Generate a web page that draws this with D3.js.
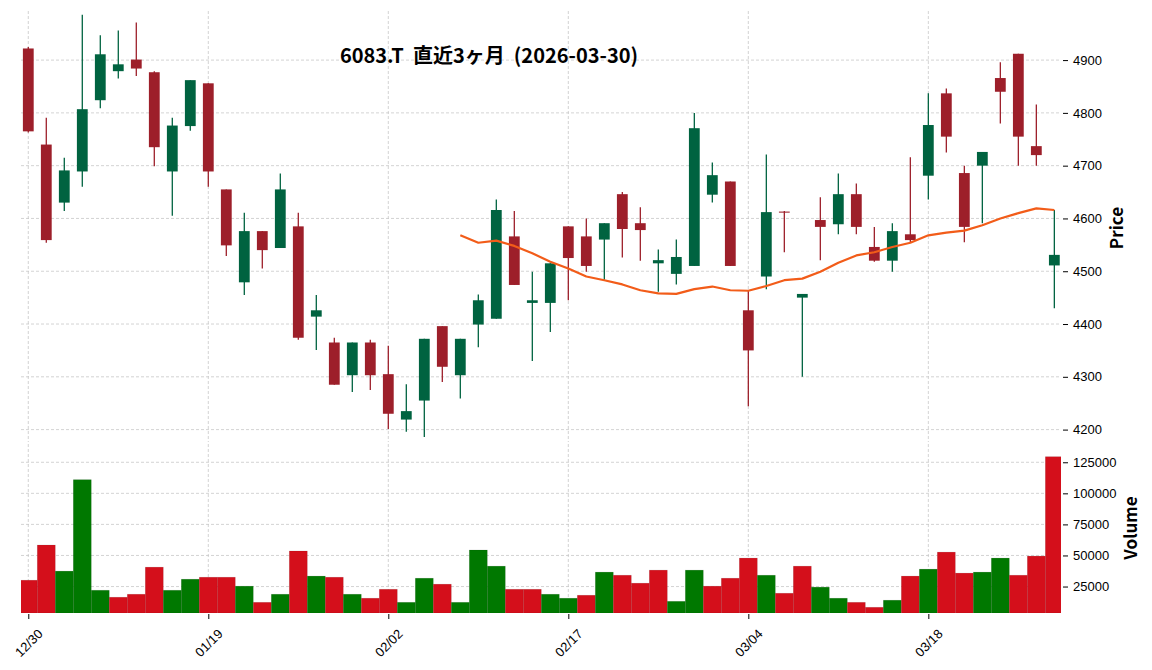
<!DOCTYPE html>
<html>
<head>
<meta charset="utf-8">
<script src="https://cdn.jsdelivr.net/npm/d3@7"></script>
<style>
    body { margin: 0; background: #fff; }
    svg { display: block; font-family: "Noto Sans CJK JP", "Noto Sans", sans-serif; }
    .grid line { stroke: #c8c8c8; stroke-width: 0.8; stroke-dasharray: 3 2; }
    .axis text { font-size: 13px; fill: #000; }
    .axis line { stroke: #000; }
</style>
</head>
<body>
<svg id="chart" width="1152" height="670"></svg>
<script>

// daily candles, 6083.T, last 3 months
const dates = ["12/30", "01/05", "01/06", "01/07", "01/08", "01/09", "01/13", "01/14", "01/15", "01/16",
    "01/19", "01/20", "01/21", "01/22", "01/23", "01/26", "01/27", "01/28", "01/29", "01/30",
    "02/02", "02/03", "02/04", "02/05", "02/06", "02/09", "02/10", "02/12", "02/13", "02/16",
    "02/17", "02/18", "02/19", "02/20", "02/24", "02/25", "02/26", "02/27", "03/02", "03/03",
    "03/04", "03/05", "03/06", "03/09", "03/10", "03/11", "03/12", "03/13", "03/16", "03/17",
    "03/18", "03/19", "03/23", "03/24", "03/25", "03/26", "03/27", "03/30"];

const opens = [4922, 4740, 4630, 4689, 4824, 4879, 4901, 4877, 4689, 4775,
    4856, 4655, 4479, 4576, 4544, 4585, 4414, 4365, 4303, 4365,
    4305, 4219, 4255, 4396, 4303, 4399, 4410, 4566, 4440, 4440,
    4585, 4566, 4560, 4646, 4591, 4515, 4495, 4510, 4645, 4670,
    4426, 4490, 4613, 4450, 4597, 4589, 4646, 4546, 4520, 4570,
    4681, 4837, 4686, 4700, 4866, 4912, 4737, 4511];

const highs = [4925, 4791, 4715, 4986, 4947, 4956, 4971, 4879, 4791, 4862,
    4856, 4655, 4611, 4576, 4685, 4611, 4455, 4374, 4365, 4370,
    4359, 4286, 4372, 4396, 4372, 4456, 4636, 4614, 4499, 4515,
    4585, 4600, 4591, 4650, 4621, 4541, 4560, 4800, 4706, 4670,
    4464, 4721, 4614, 4457, 4640, 4685, 4666, 4584, 4591, 4716,
    4837, 4846, 4700, 4726, 4896, 4912, 4816, 4616];

const lows = [4763, 4554, 4614, 4660, 4809, 4865, 4870, 4699, 4605, 4766,
    4660, 4529, 4455, 4505, 4544, 4370, 4351, 4285, 4271, 4275,
    4201, 4196, 4186, 4290, 4259, 4356, 4410, 4474, 4330, 4385,
    4445, 4499, 4484, 4526, 4520, 4461, 4475, 4510, 4630, 4510,
    4244, 4466, 4536, 4300, 4521, 4570, 4570, 4518, 4499, 4555,
    4636, 4725, 4555, 4591, 4780, 4700, 4700, 4430];

const closes = [4765, 4559, 4691, 4807, 4911, 4892, 4884, 4735, 4776, 4862,
    4689, 4549, 4576, 4540, 4655, 4374, 4426, 4285, 4365, 4303,
    4230, 4235, 4372, 4319, 4372, 4445, 4616, 4474, 4445, 4515,
    4525, 4510, 4591, 4580, 4578, 4521, 4527, 4771, 4682, 4510,
    4350, 4612, 4611, 4457, 4584, 4646, 4584, 4520, 4576, 4559,
    4777, 4755, 4584, 4726, 4840, 4755, 4720, 4531];

const volumes = [30100, 58400, 37400, 111000, 22000, 16400, 18800, 40600, 22000, 30900,
    32500, 32500, 25300, 12300, 18800, 53600, 33400, 32500, 18800, 15600,
    22800, 12300, 31700, 26900, 12300, 54400, 41400, 22800, 22800, 18800,
    15600, 18000, 36600, 34100, 27700, 38200, 13100, 38200, 25300, 31700,
    47900, 34100, 19600, 41400, 24500, 15600, 12300, 8300, 14000, 33400,
    39000, 52700, 35800, 36600, 47900, 34100, 49500, 129500];

// 25 day moving average, drawn from the 25th session on
const maValues = [4568, 4554, 4558, 4548, 4534, 4518, 4505, 4490, 4483, 4475,
    4464, 4458, 4457, 4466, 4471, 4464, 4463, 4472, 4483, 4486,
    4499, 4516, 4530, 4536, 4546, 4554, 4568, 4573, 4577, 4587,
    4600, 4610, 4619, 4616];

const priceTicks = [4200, 4300, 4400, 4500, 4600, 4700, 4800, 4900];
const volumeTicks = [25000, 50000, 75000, 100000, 125000];
const dateTickIndex = [0, 10, 20, 30, 40, 50];

const titleText = "6083.T  直近3ヶ月  (2026-03-30)";

const upCandle = "#006340";
const downCandle = "#9d1f2a";
const upVolume = "#007800";
const downVolume = "#d40f1b";
const maColor = "#f25c19";

const svg = d3.select("#chart");

const left = 21, right = 1061;
const priceTop = 11, priceBottom = 442;
const volTop = 444, volBottom = 613;

const x = d3.scaleLinear()
    .domain([-0.405, dates.length - 1 + 0.37])
    .range([left, right]);

const dayWidth = x(1) - x(0);

const y = d3.scaleLinear()
    .domain([4176.5, 4993])
    .range([priceBottom, priceTop]);

const yVol = d3.scaleLinear()
    .domain([3700, 139700])
    .range([volBottom, volTop]);

const candles = dates.map((d, i) => ({
    i: i,
    open: opens[i],
    high: highs[i],
    low: lows[i],
    close: closes[i],
    volume: volumes[i],
    // volume colour follows the close against the previous close
    volUp: i === 0 ? closes[i] >= opens[i] : closes[i] >= closes[i - 1]
}));

const offset = dates.length - maValues.length;
const maPoints = maValues.map((v, k) => ({i: k + offset, v: v}));

// clip paths for both panels
const defs = svg.append("defs");
defs.append("clipPath").attr("id", "clip-price")
    .append("rect").attr("x", left).attr("y", priceTop)
    .attr("width", right - left).attr("height", priceBottom - priceTop);
defs.append("clipPath").attr("id", "clip-vol")
    .append("rect").attr("x", left).attr("y", volTop)
    .attr("width", right - left).attr("height", volBottom - volTop);

// grid
const grid = svg.append("g").attr("class", "grid");

grid.selectAll("line.py")
    .data(priceTicks)
    .join("line")
    .attr("x1", left).attr("x2", right)
    .attr("y1", d => y(d)).attr("y2", d => y(d));

grid.selectAll("line.vy")
    .data(volumeTicks)
    .join("line")
    .attr("class", "vy")
    .attr("x1", left).attr("x2", right)
    .attr("y1", d => yVol(d)).attr("y2", d => yVol(d));

dateTickIndex.forEach(i => {
    grid.append("line")
        .attr("x1", x(i)).attr("x2", x(i))
        .attr("y1", priceTop).attr("y2", priceBottom);
    grid.append("line")
        .attr("x1", x(i)).attr("x2", x(i))
        .attr("y1", volTop).attr("y2", volBottom);
});

// candles
const candleGroup = svg.append("g").attr("clip-path", "url(#clip-price)");

candleGroup.selectAll("line.wick")
    .data(candles)
    .join("line")
    .attr("class", "wick")
    .attr("x1", d => x(d.i)).attr("x2", d => x(d.i))
    .attr("y1", d => y(d.high)).attr("y2", d => y(d.low))
    .attr("stroke", d => d.close >= d.open ? upCandle : downCandle)
    .attr("stroke-width", 1.3);

candleGroup.selectAll("rect.body")
    .data(candles)
    .join("rect")
    .attr("class", "body")
    .attr("x", d => x(d.i) - dayWidth * 0.3)
    .attr("width", dayWidth * 0.6)
    .attr("y", d => y(Math.max(d.open, d.close)))
    .attr("height", d => Math.max(1, Math.abs(y(d.open) - y(d.close))))
    .attr("fill", d => d.close >= d.open ? upCandle : downCandle);

// moving average
candleGroup.append("path")
    .datum(maPoints)
    .attr("fill", "none")
    .attr("stroke", maColor)
    .attr("stroke-width", 2.2)
    .attr("stroke-linejoin", "round")
    .attr("d", d3.line().x(d => x(d.i)).y(d => y(d.v)));

// volume bars
svg.append("g")
    .attr("clip-path", "url(#clip-vol)")
    .selectAll("rect")
    .data(candles)
    .join("rect")
    .attr("x", d => x(d.i) - dayWidth / 2)
    .attr("width", dayWidth)
    .attr("y", d => yVol(d.volume))
    .attr("height", d => volBottom - yVol(d.volume))
    .attr("fill", d => d.volUp ? upVolume : downVolume)
    .attr("stroke", "rgba(0,0,0,0.12)")
    .attr("stroke-width", 0.7);

// right hand axes
const priceAxis = svg.append("g")
    .attr("class", "axis")
    .attr("transform", `translate(${right + 2},0)`)
    .call(d3.axisRight(y).tickValues(priceTicks).tickSize(5).tickPadding(5).tickFormat(d3.format("d")));
priceAxis.select(".domain").remove();

const volAxis = svg.append("g")
    .attr("class", "axis")
    .attr("transform", `translate(${right + 2},0)`)
    .call(d3.axisRight(yVol).tickValues(volumeTicks).tickSize(5).tickPadding(5).tickFormat(d3.format("d")));
volAxis.select(".domain").remove();

// date axis under the volume panel
const dateAxis = svg.append("g")
    .attr("class", "axis")
    .attr("transform", `translate(0,${volBottom + 1})`)
    .call(d3.axisBottom(x).tickValues(dateTickIndex).tickSize(5).tickFormat(i => dates[i]));
dateAxis.select(".domain").remove();
dateAxis.selectAll("text")
    .attr("y", 0)
    .attr("dy", "0.35em")
    .attr("text-anchor", "middle")
    .attr("transform", "translate(0,29) rotate(-45)");

// axis titles
svg.append("text")
    .attr("transform", "translate(1117,228) rotate(-90)")
    .attr("text-anchor", "middle")
    .attr("dy", "0.35em")
    .attr("font-size", 17)
    .attr("font-weight", "bold")
    .text("Price");

svg.append("text")
    .attr("transform", "translate(1131,528) rotate(-90)")
    .attr("text-anchor", "middle")
    .attr("dy", "0.35em")
    .attr("font-size", 17)
    .attr("font-weight", "bold")
    .text("Volume");

// title
svg.append("text")
    .attr("x", 489)
    .attr("y", 63)
    .attr("text-anchor", "middle")
    .attr("font-size", 20)
    .attr("font-weight", "bold")
    .style("white-space", "pre")
    .text(titleText);

</script>
</body>
</html>
